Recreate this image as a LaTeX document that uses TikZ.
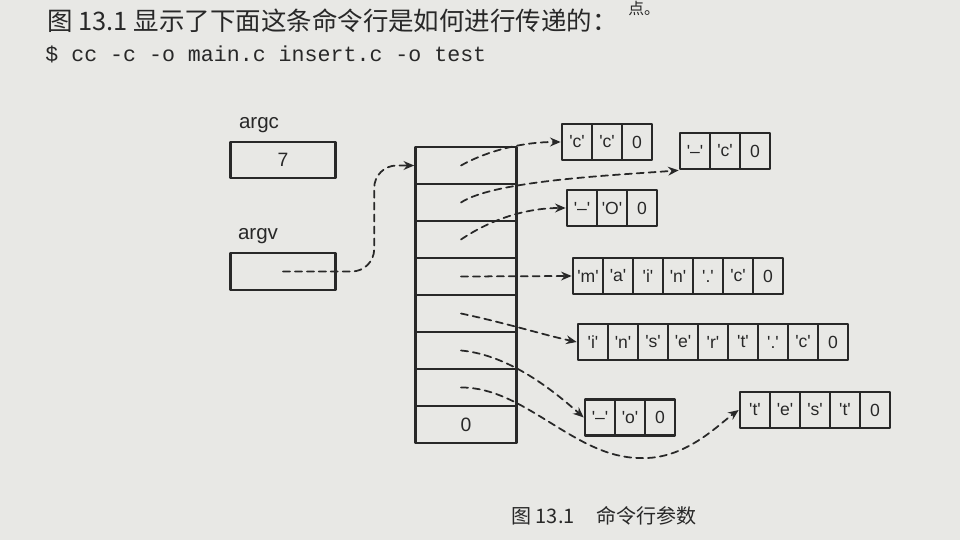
\documentclass[tikz,border=0pt]{standalone}
\usepackage{fontspec}
\setmainfont{Liberation Sans}
\newfontfamily\cmdfont{Liberation Mono}
\newfontfamily\cjk{Noto Sans CJK SC}
\usetikzlibrary{arrows.meta}
\definecolor{paper}{RGB}{232,232,229}
\definecolor{ink}{RGB}{40,40,40}
\newcommand\q[1]{\textquotesingle#1\textquotesingle}
\tikzset{
  every picture/.style={line join=round, line cap=round, >=Stealth},
  box/.style={draw=ink, line width=1.5pt, inner sep=0pt, text=ink},
  vcell/.style={box, minimum width=2.02cm, minimum height=0.74cm, font=\fontsize{11}{13}\selectfont},
  scell/.style={box, minimum width=0.6cm, minimum height=0.72cm, font=\fontsize{10}{12}\selectfont},
  ptr/.style={ink, line width=1pt, dash pattern=on 4pt off 2.8pt, -{Stealth[length=6pt,width=5pt]}},
  lbl/.style={text=ink, font=\fontsize{11.7}{14}\selectfont},
  page/.style={anchor=base west, inner sep=0pt, text=ink},
}

\begin{document}
\begin{tikzpicture}[x=0.02cm, y=-0.02cm]
\fill[paper] (0,0) rectangle (960,540);
\useasboundingbox (0,0) rectangle (960,540);
% text of the page
\node[page, font=\cjk\fontsize{9}{11}\selectfont] (prev) at (628,15) {点。};
\node[page, font=\cjk\fontsize{14.5}{16}\selectfont] (intro) at (47,31) {图 13.1 显示了下面这条命令行是如何进行传递的：};
\node[page, font=\cmdfont\fontsize{12.3}{14}\selectfont] (cmd) at (45,62) {\$ cc -c -o main.c insert.c -o test};
% argc, argv
\node[lbl] (argcl) at (259,125) {argc};
\node[box, minimum width=2.1cm, minimum height=0.72cm, font=\fontsize{11}{13}\selectfont] (argc) at (283,160) {7};
\node[lbl] (argvl) at (258,236) {argv};
\node[box, minimum width=2.1cm, minimum height=0.74cm] (argv) at (283,271.5) {};
% the argv array
\foreach \i in {0,...,6}
  \node[vcell] (v\i) at (466,165.5+37*\i) {};
\node[vcell] (v7) at (466,424.5) {0};
% the strings
\foreach \s/\x/\y/\chars in {
  s0/562/142/{\q c,\q c,0},
  s1/680/151/{\q\textendash,\q c,0},
  s2/567/208/{\q\textendash,\q O,0},
  s3/573/276/{\q m,\q a,\q i,\q n,\q .,\q c,0},
  s4/578/342/{\q i,\q n,\q s,\q e,\q r,\q t,\q .,\q c,0},
  s5/585/417.5/{\q\textendash,\q o,0},
  s6/740/410/{\q t,\q e,\q s,\q t,0}}
  \foreach \c [count=\k] in \chars
    \node[scell] (\s-\k) at (\x-15+30*\k,\y) {\c};
% pointers
\foreach \i in {0,...,6}
  \coordinate (p\i) at ([xshift=-0.1cm]v\i.center);
\draw[ptr, rounded corners=0.45cm] (argv.center) -| ([xshift=-0.8cm]v0.west) -- (v0.west);
\draw[ptr] (p0) .. controls (485,152) and (520,142) .. (s0-1.west);
\draw[ptr] (p1) .. controls (495,180) and (620,175) .. (s1-1.south west);
\draw[ptr] (p2) .. controls (490,220) and (525,208) .. (s2-1.west);
\draw[ptr] (p3) -- (s3-1.west);
\draw[ptr] (p4) .. controls (510,324) and (540,334) .. (s4-1.west);
\draw[ptr] (p5) .. controls (510,355) and (555,392) .. (s5-1.west);
\coordinate (dip) at (640,458);
\draw[ptr] (p6) .. controls (525,387) and (575,458) .. (dip) .. controls (685,460) and (718,425) .. (s6-1.west);
% caption
\node[page, font=\cjk\fontsize{11.4}{13}\selectfont] (cap) at (511,523) {图 13.1\hspace{1.1em}命令行参数};
\end{tikzpicture}
\end{document}
